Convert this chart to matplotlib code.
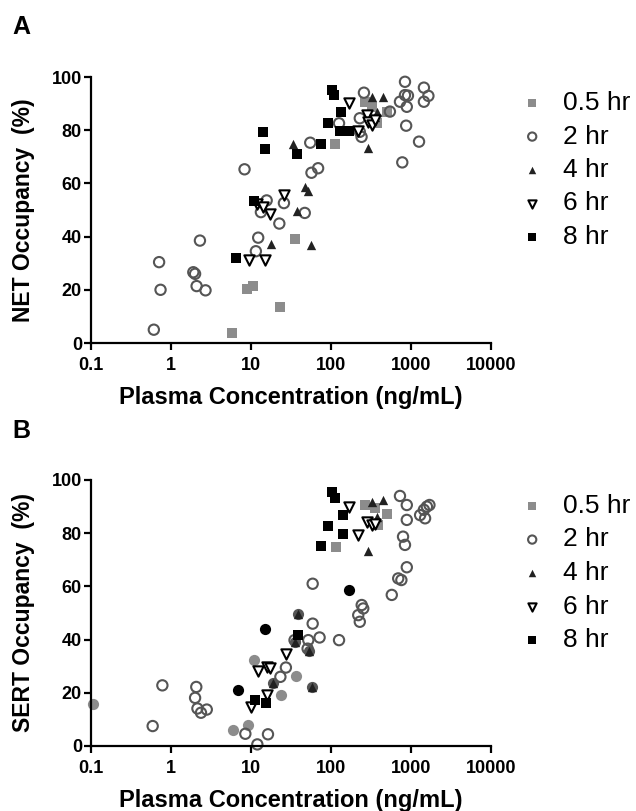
import matplotlib
matplotlib.use("Agg")
from matplotlib import pyplot as plt

# panel A - NET occupancy
net_05_x = [5.8, 8.8, 10.7, 23, 35, 112, 266, 323, 373, 504]
net_05_y = [3.8, 20.3, 21.6, 13.5, 39.2, 74.7, 90.7, 88.8, 82.6, 87]
net_2_x = [0.61, 0.71, 0.74, 1.9, 2.0, 2.09, 2.3, 2.7, 8.3, 11.5, 12.3, 13.3, 15.7, 22.6, 25.8, 47, 55, 57, 69,
           126, 229, 241, 229, 258, 545, 728, 841, 841, 916, 886, 870, 778, 1260, 1450, 1650, 1450]
net_2_y = [5.0, 30.4, 20, 26.6, 26, 21.4, 38.5, 19.8, 65.3, 34.5, 39.6, 49.2, 53.6, 44.9, 52.6, 48.9, 75.3, 64, 65.7,
           82.6, 79.4, 77.5, 84.5, 94.1, 87, 90.7, 98.2, 93.2, 93, 88.8, 81.7, 67.9, 75.7, 96, 92.9, 90.7]
net_4_x = [17.8, 33.8, 38, 47, 52, 55.7, 294, 323, 444, 373, 355]
net_4_y = [37.3, 74.7, 49.5, 58.6, 57, 36.7, 73.2, 92.6, 92.6, 87, 84.9]
net_6_x = [9.4, 15, 11.8, 14.1, 17.2, 25.8, 166, 219, 280, 294, 323, 355]
net_6_y = [31.3, 31.3, 52.4, 51.1, 48.4, 55.5, 90.1, 79.8, 85.7, 83.1, 82, 84]
net_8_x = [6.5, 11, 14.3, 15, 38, 75, 102, 108, 93, 135, 129, 170]
net_8_y = [32.1, 53.4, 79.2, 73, 71.2, 74.7, 95.1, 93.2, 82.7, 87, 79.7, 79.7]

# panel B - SERT occupancy
sert_05_x = [117, 266, 355, 500, 390]
sert_05_y = [75, 90.6, 89.3, 87.2, 83]
sert_05c_x = [0.105, 5.98, 9.25, 11, 36.5, 24]
sert_05c_y = [15.9, 6.1, 7.8, 32.2, 26.2, 19.1]
sert_2_x = [0.59, 0.78, 2.07, 2.0, 2.14, 2.37, 2.8, 8.5, 12, 16.3, 23.3, 27.3, 35, 51, 52, 59, 59, 72, 126,
            728, 886, 886, 795, 841, 886, 692, 758, 575, 1300, 1500, 1580, 1700, 1450, 242, 253, 219, 229]
sert_2_y = [7.5, 22.8, 22.2, 18.1, 14.1, 12.5, 13.7, 4.6, 0.6, 4.4, 26, 29.5, 39.8, 36.6, 39.8, 61, 46, 40.8, 39.8,
            94, 90.6, 85, 78.7, 75.6, 67.2, 63, 62.4, 56.8, 86.8, 85.6, 90, 90.6, 88.8, 53, 51.7, 49.2, 46.7]
sert_4_x = [323, 444, 294, 373]
sert_4_y = [91.9, 92.5, 73.4, 86]
sert_4c_x = [39, 19, 35.7, 53.5, 57.5]
sert_4c_y = [49.8, 23.7, 39, 35.8, 22]
sert_6_x = [10, 12.3, 16, 17.2, 27.6, 16, 166, 219, 280, 323, 355]
sert_6_y = [14.7, 28.2, 29.7, 29.5, 34.5, 19.1, 90, 79.3, 84.3, 83, 83.5]
sert_8_x = [76, 93, 104, 112, 140, 140, 11.1, 15.3, 39]
sert_8_y = [75.2, 82.8, 95.4, 93.1, 86.8, 79.7, 17.4, 16.2, 41.7]
sert_8c_x = [6.9, 14.8, 166]
sert_8c_y = [21.2, 43.8, 58.6]

labels = ["0.5 hr", "2 hr", "4 hr", "6 hr", "8 hr"]
xticks = [0.1, 1, 10, 100, 1000, 10000]
xticklabels = ["0.1", "1", "10", "100", "1000", "10000"]
yticks = [0, 20, 40, 60, 80, 100]

plt.rcParams["font.family"] = ["Liberation Sans", "DejaVu Sans"]

GRAY = "#8c8c8c"
CIRC = "#555555"
TRI = "#222222"


def style_axes(ax, ylabel):
    ax.set_xscale("log")
    ax.set_xlim(0.1, 10000)
    ax.set_ylim(0, 100)
    ax.set_xticks(xticks)
    ax.set_xticklabels(xticklabels)
    ax.minorticks_off()
    ax.set_yticks(yticks)
    for s in ["top", "right"]:
        ax.spines[s].set_visible(False)
    for s in ["left", "bottom"]:
        ax.spines[s].set_linewidth(1.6)
    ax.tick_params(axis="both", width=1.6, length=5, labelsize=13)
    ax.tick_params(axis="x", pad=5)
    ax.tick_params(axis="y", pad=1.5)
    for t in ax.get_xticklabels() + ax.get_yticklabels():
        t.set_fontweight("bold")
    ax.set_xlabel("Plasma Concentration (ng/mL)", fontsize=17, fontweight="bold", va="top")
    ax.xaxis.set_label_coords(0.5, -0.16)
    ax.set_ylabel(ylabel, fontsize=16.5, fontweight="bold")
    ax.yaxis.set_label_coords(-0.14, 0.5)


def add_legend(fig, ax, handles, top):
    ax.legend(handles, labels, loc="upper left", bbox_to_anchor=(519 / 636, 1 - top / 811),
              bbox_transform=fig.transFigure, frameon=False, fontsize=19, handlelength=1.0,
              handletextpad=0.65, labelspacing=0.36, borderpad=0, borderaxespad=0, markerscale=0.8)


fig = plt.figure(figsize=(6.36, 8.11), dpi=100)
ax1 = fig.add_axes([91 / 636, (811 - 343) / 811, 400 / 636, 266 / 811])
ax2 = fig.add_axes([91 / 636, (811 - 746) / 811, 400 / 636, 266 / 811])

ms = 55

# panel A
h05 = ax1.scatter(net_05_x, net_05_y, marker="s", s=ms, c=GRAY, linewidths=0, clip_on=False)
h2 = ax1.scatter(net_2_x, net_2_y, marker="o", s=ms, facecolors="none", edgecolors=CIRC, linewidths=1.5, clip_on=False)
h4 = ax1.scatter(net_4_x, net_4_y, marker="^", s=45, c=TRI, linewidths=0, clip_on=False)
h6 = ax1.scatter(net_6_x, net_6_y, marker="v", s=55, facecolors="white", edgecolors="black", linewidths=1.5, clip_on=False)
h8 = ax1.scatter(net_8_x, net_8_y, marker="s", s=ms, c="black", linewidths=0, clip_on=False)
style_axes(ax1, "NET Occupancy  (%)")
add_legend(fig, ax1, [h05, h2, h4, h6, h8], 91)

# panel B
b05 = ax2.scatter(sert_05_x, sert_05_y, marker="s", s=ms, c=GRAY, linewidths=0, clip_on=False)
ax2.scatter(sert_05c_x, sert_05c_y, marker="o", s=ms + 10, c=GRAY, linewidths=0, clip_on=False)
b2 = ax2.scatter(sert_2_x, sert_2_y, marker="o", s=ms, facecolors="none", edgecolors=CIRC, linewidths=1.5, clip_on=False)
ax2.scatter(sert_4c_x, sert_4c_y, marker="o", s=ms + 10, c="#555555", linewidths=0, clip_on=False)
b4 = ax2.scatter(sert_4_x + sert_4c_x, sert_4_y + sert_4c_y, marker="^", s=45, c=TRI, linewidths=0, clip_on=False)
b6 = ax2.scatter(sert_6_x, sert_6_y, marker="v", s=55, facecolors="white", edgecolors="black", linewidths=1.5, clip_on=False)
ax2.scatter(sert_8c_x, sert_8c_y, marker="o", s=ms + 10, c="black", linewidths=0, clip_on=False)
b8 = ax2.scatter(sert_8_x, sert_8_y, marker="s", s=ms, c="black", linewidths=0, clip_on=False)
style_axes(ax2, "SERT Occupancy  (%)")
add_legend(fig, ax2, [b05, b2, b4, b6, b8], 494)

fig.text(12 / 636, 1 - 27 / 811, "A", fontsize=18, fontweight="bold", va="center")
fig.text(12 / 636, 1 - 431 / 811, "B", fontsize=18, fontweight="bold", va="center")

fig.savefig("out.png", dpi=100)
